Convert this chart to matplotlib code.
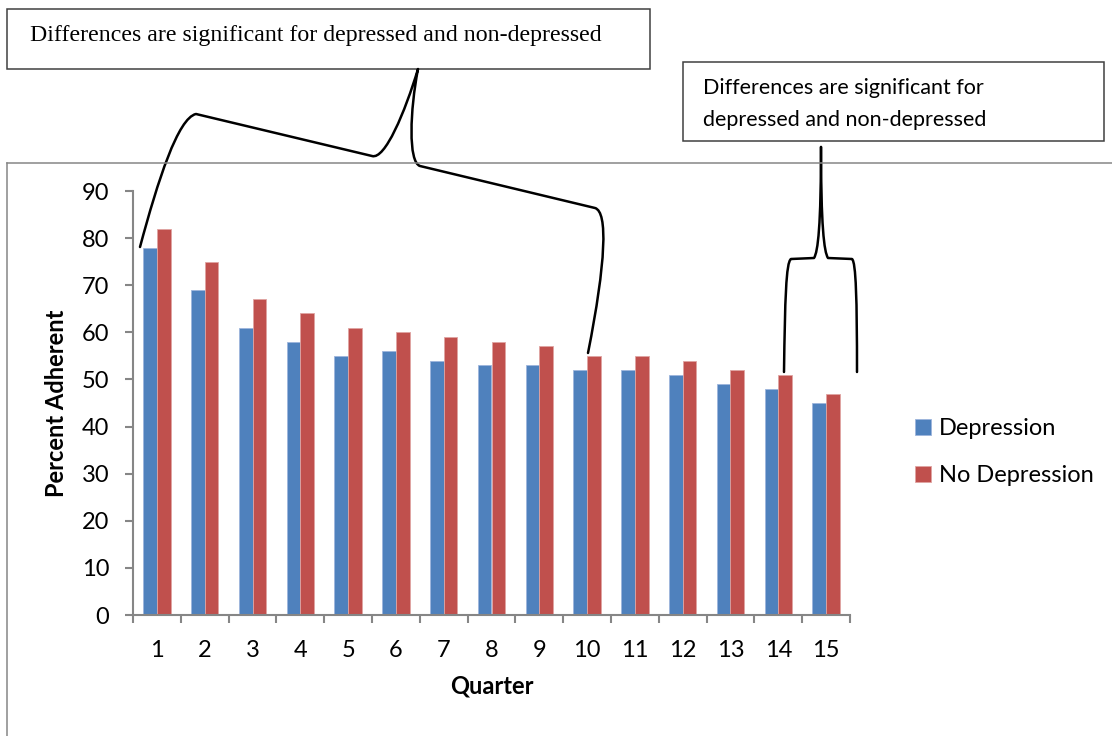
import matplotlib
matplotlib.use("Agg")
import matplotlib.pyplot as plt
import numpy as np
from matplotlib.path import Path
from matplotlib.patches import PathPatch, Rectangle
from matplotlib.lines import Line2D
from matplotlib.ticker import MultipleLocator

quarters = [str(q) for q in range(1, 16)]
depression = [78, 69, 61, 58, 55, 56, 54, 53, 53, 52, 52, 51, 49, 48, 45]
no_depression = [82, 75, 67, 64, 61, 60, 59, 58, 57, 55, 55, 54, 52, 51, 47]
series_names = ["Depression", "No Depression"]
note_text = "Differences are significant for depressed and non-depressed"
note_lines = ["Differences are significant for", "depressed and non-depressed"]

BLUE = "#4F81BD"
RED = "#C0504D"
GRAY = "#868686"

W, H = 1112, 736
plt.rcParams["font.family"] = ["Lato", "DejaVu Sans"]

fig = plt.figure(figsize=(W / 100, H / 100), dpi=100)


def fx(x):
    return x / W


def fy(y):
    # pixel rows are counted from the top
    return 1 - y / H


ax = fig.add_axes([fx(133), fy(615), fx(850 - 133), (615 - 191) / H])

x = np.arange(len(quarters))
bw = 1 / 3.5
ax.bar(x - bw / 2, depression, bw, color=BLUE, edgecolor="#9db5dc", linewidth=0.6,
       label=series_names[0])
ax.bar(x + bw / 2, no_depression, bw, color=RED, edgecolor="#e0a4a2", linewidth=0.6,
       label=series_names[1])

ax.set_xlim(-0.5, len(quarters) - 0.5)
ax.set_ylim(0, 90)
ax.yaxis.set_major_locator(MultipleLocator(10))
ax.set_xticks(x)
ax.set_xticklabels(quarters)
ax.set_xticks(np.arange(-0.5, len(quarters)), minor=True)

for side in ["top", "right"]:
    ax.spines[side].set_visible(False)
for side in ["left", "bottom"]:
    ax.spines[side].set_color(GRAY)
    ax.spines[side].set_linewidth(1.5)

ax.tick_params(axis="x", which="major", length=0, pad=18, labelsize=17)
ax.tick_params(axis="x", which="minor", length=6, width=1.5, color=GRAY)
ax.tick_params(axis="y", length=6, width=1.5, color=GRAY, pad=11, labelsize=17)

ax.set_ylabel("Percent Adherent", fontsize=17, fontweight="bold", labelpad=10)
ax.set_xlabel("Quarter", fontsize=17, fontweight="bold", labelpad=10)

ax.legend(loc="center left", bbox_to_anchor=(fx(894), fy(452)),
          bbox_transform=fig.transFigure, frameon=False, fontsize=17,
          handlelength=0.65, handleheight=0.65, handletextpad=0.35, labelspacing=1.1)

# outer chart frame (top and left edges)
fig.add_artist(Line2D([fx(7), 1], [fy(163), fy(163)], color=GRAY, lw=1.1))
fig.add_artist(Line2D([fx(7), fx(7)], [fy(163), 0], color=GRAY, lw=1.1))

# note boxes
fig.add_artist(Rectangle((fx(7), fy(69)), fx(650 - 7), (69 - 9) / H,
                         transform=fig.transFigure, fill=False, ec="#404040", lw=1.1))
fig.text(fx(30), fy(35), note_text, family="Liberation Serif", fontsize=17.2,
         va="center", ha="left")

fig.add_artist(Rectangle((fx(683), fy(141)), fx(1104 - 683), (141 - 62) / H,
                         transform=fig.transFigure, fill=False, ec="#404040", lw=1.1))
fig.text(fx(703), fy(88), note_lines[0], fontsize=15.5, va="center", ha="left")
fig.text(fx(703), fy(120), note_lines[1], fontsize=15.5, va="center", ha="left")

M, C, L = Path.MOVETO, Path.CURVE4, Path.LINETO


def brace(points, codes):
    pts = [(fx(px), fy(py)) for px, py in points]
    fig.add_artist(PathPatch(Path(pts, codes), transform=fig.transFigure,
                             fill=False, ec="black", lw=1.8, capstyle="round",
                             joinstyle="round"))


# brace over quarters 1-10
brace([(140, 247), (158, 180), (178, 118), (196, 114),
       (372, 156),
       (385, 160), (405, 112), (418, 69),
       (410, 110), (408, 162), (420, 166),
       (595, 208),
       (608, 212), (606, 262), (588, 353)],
      [M, C, C, C, L, C, C, C, C, C, C, L, C, C, C])

# brace over quarters 14-15
brace([(821, 147), (821, 225), (818, 252), (814, 258),
       (791, 259),
       (786, 262), (785, 300), (784, 372)],
      [M, C, C, C, L, C, C, C])
brace([(821, 147), (821, 225), (824, 252), (828, 258),
       (852, 259),
       (856, 262), (857, 300), (857, 372)],
      [M, C, C, C, L, C, C, C])

fig.savefig("out.png", dpi=100)
